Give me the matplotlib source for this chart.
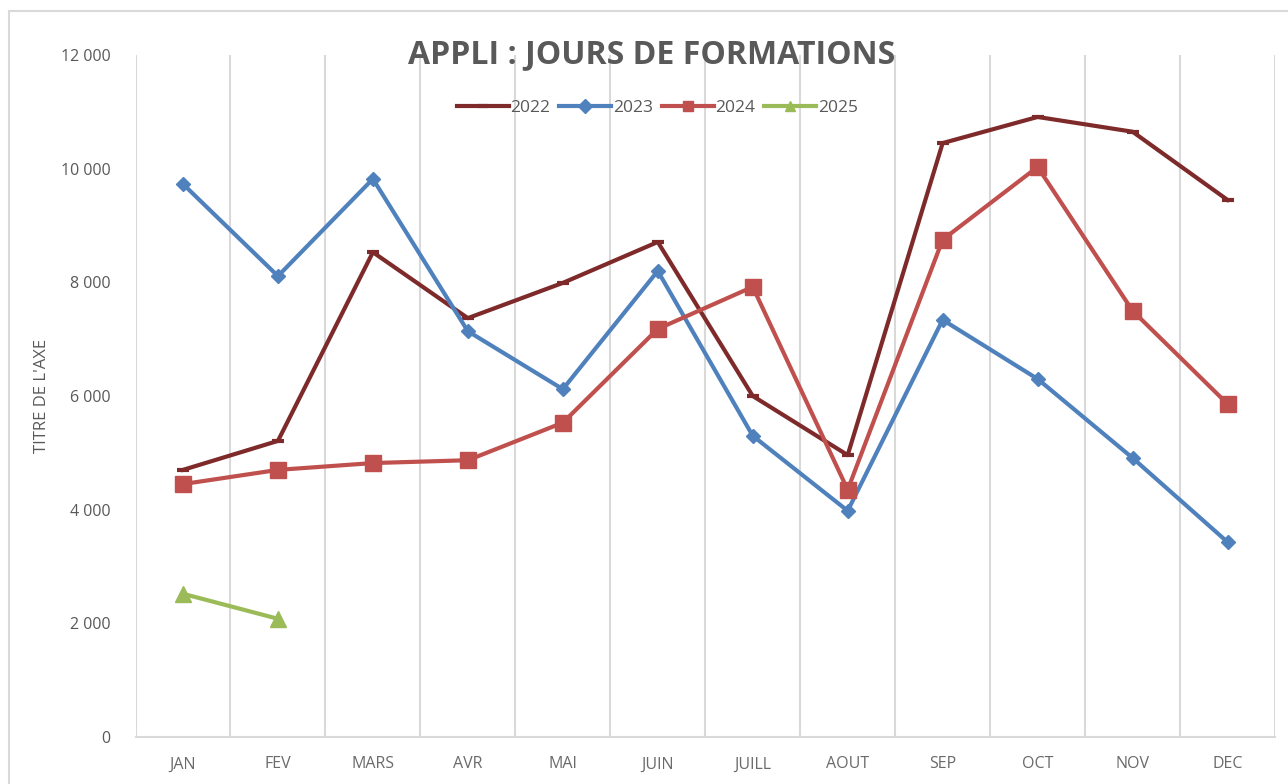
import matplotlib.pyplot as plt
from matplotlib.patches import Rectangle
from matplotlib.ticker import FuncFormatter, MultipleLocator

mois = ['JAN', 'FEV', 'MARS', 'AVR', 'MAI', 'JUIN', 'JUILL', 'AOUT', 'SEP', 'OCT', 'NOV', 'DEC']
v2022 = [4700, 5210, 8530, 7370, 7990, 8710, 6000, 4960, 10450, 10910, 10650, 9450]
v2023 = [9730, 8110, 9820, 7140, 6120, 8200, 5300, 3980, 7340, 6300, 4910, 3430]
v2024 = [4450, 4700, 4820, 4870, 5530, 7180, 7920, 4350, 8750, 10030, 7500, 5860]
v2025 = [2520, 2080]

plt.rcParams['font.family'] = ['Open Sans', 'DejaVu Sans']
gris = '#595959'

fig = plt.figure(figsize=(12.88, 7.84), dpi=100)
# cadre exterieur du graphique
fig.patches.append(Rectangle((9 / 1288, -0.01), 1.05, 1 - 11 / 784 + 0.01,
                             transform=fig.transFigure, fill=False,
                             edgecolor='#D9D9D9', linewidth=1.5))

ax = fig.add_axes([135.5 / 1288, 47 / 784, (1275 - 135.5) / 1288, (737 - 55) / 784])

x = range(len(mois))
ax.plot(x, v2022, color='#7F2A2A', linewidth=3, marker='_', markersize=9,
        markeredgewidth=3, label='2022')
ax.plot(x, v2023, color='#4F81BD', linewidth=3, marker='D', markersize=7, label='2023')
ax.plot(x, v2024, color='#C0504D', linewidth=3, marker='s', markersize=11, label='2024')
ax.plot(range(len(v2025)), v2025, color='#9BBB59', linewidth=3, marker='^',
        markersize=11, label='2025')

ax.set_xlim(-0.5, 11.5)
ax.set_ylim(0, 12000)
ax.set_xticks(list(x))
ax.set_xticklabels(mois)
ax.set_xticks([i + 0.5 for i in range(-1, 12)], minor=True)
ax.grid(True, which='minor', axis='x', color='#D9D9D9', linewidth=1.5)
ax.yaxis.set_major_locator(MultipleLocator(2000))
ax.yaxis.set_major_formatter(FuncFormatter(lambda v, p: f'{int(v):,}'.replace(',', ' ')))

for s in ['top', 'right', 'left']:
    ax.spines[s].set_visible(False)
ax.spines['bottom'].set_color('#D9D9D9')
ax.spines['bottom'].set_linewidth(1.5)
ax.tick_params(axis='both', which='both', length=0, colors=gris, labelsize=11.5)
ax.tick_params(axis='x', pad=14, labelcolor='#6A6A6A')
ax.tick_params(axis='y', pad=18)

ax.set_ylabel("TITRE DE L'AXE", color=gris, fontsize=12, labelpad=8)
ax.text(0.453, 1.0, 'APPLI : JOURS DE FORMATIONS', transform=ax.transAxes,
        ha='center', va='center', color=gris, fontsize=23, fontweight='bold')

leg = ax.legend(loc='center', bbox_to_anchor=(0.458, 0.922), ncol=4, frameon=False,
                fontsize=12.5, handlelength=3, columnspacing=0.5, handletextpad=0.1,
                labelcolor=gris)
for h in leg.legend_handles:
    h.set_markersize(7)

plt.savefig('out.png', dpi=100)
